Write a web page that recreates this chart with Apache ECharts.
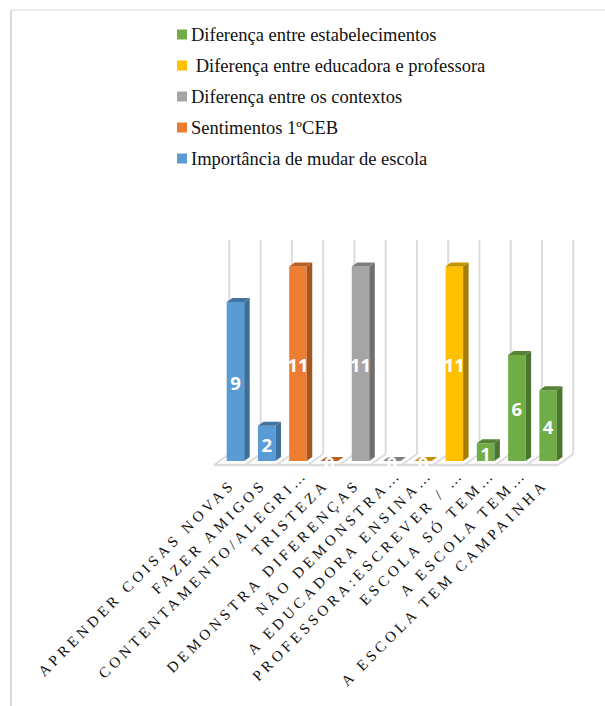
<!DOCTYPE html>
<html>
<head>
<meta charset="utf-8">
<style>
html, body { margin: 0; padding: 0; background: #fff; }
#chart { width: 605px; height: 706px; }
/* tracked capitals on the rotated category labels */
svg text[style*="15px"] { letter-spacing: 3.9px; }
</style>
<script src="https://cdn.jsdelivr.net/npm/echarts@6/dist/echarts.min.js"></script>
</head>
<body>
<div id="chart"></div>
<script>
const categories = [
  'APRENDER COISAS NOVAS',
  'FAZER AMIGOS',
  'CONTENTAMENTO/ALEGRI…',
  'TRISTEZA',
  'DEMONSTRA DIFERENÇAS',
  'NÃO DEMONSTRA…',
  'A EDUCADORA ENSINA…',
  'PROFESSORA:ESCREVER / …',
  'ESCOLA SÓ TEM…',
  'A ESCOLA TEM…',
  'A ESCOLA TEM CAMPAINHA'
];

const importancia = [9, 2, null, null, null, null, null, null, null, null, null];
const sentimentos = [null, null, 11, 0, null, null, null, null, null, null, null];
const contextos = [null, null, null, null, 11, 0, null, null, null, null, null];
const educadoraProfessora = [null, null, null, null, null, null, 0, 11, null, null, null];
const estabelecimentos = [null, null, null, null, null, null, null, null, 1, 6, 4];

const legendOrder = [
  'Diferença entre estabelecimentos',
  ' Diferença entre educadora e professora',
  'Diferença entre os contextos',
  'Sentimentos 1ºCEB',
  'Importância de mudar de escola'
];

const axisMax = 12.5;

// Projection of the fake 3D box
const barRatio = 0.56;
const barDepthX = 5.5;
const barDepthY = 4;
const floorFront = { x: -5.8, y: 4 };
const floorBack = { x: 9.5, y: -7 };
const wallColor = '#dcdcdc';

function renderBar(front, side, top) {
  return function (params, api) {
    const value = api.value(1);
    const base = api.coord([api.value(0), 0]);
    const head = api.coord([api.value(0), value]);
    const width = api.size([1, 0])[0] * barRatio;
    const x0 = base[0] - width / 2;
    const x1 = base[0] + width / 2;
    const yb = base[1];
    const yt = head[1];
    const children = [];
    if (value > 0) {
      children.push({
        type: 'polygon',
        shape: { points: [[x0, yb], [x1, yb], [x1, yt], [x0, yt]] },
        style: { fill: front }
      });
      children.push({
        type: 'polygon',
        shape: { points: [[x1, yb], [x1 + barDepthX, yb - barDepthY], [x1 + barDepthX, yt - barDepthY], [x1, yt]] },
        style: { fill: side }
      });
    }
    children.push({
      type: 'polygon',
      shape: { points: [[x0, yt], [x1, yt], [x1 + barDepthX, yt - barDepthY], [x0 + barDepthX, yt - barDepthY]] },
      style: { fill: top }
    });
    children.push({
      type: 'text',
      style: {
        x: base[0],
        y: (yb + yt) / 2 + 1,
        text: String(value),
        fill: '#ffffff',
        font: 'bold 18.5px "Open Sans"',
        align: 'center',
        verticalAlign: 'middle'
      }
    });
    return { type: 'group', children };
  };
}

// Back wall ticks and the floor, one segment per category
function renderRoom(params, api) {
  const i = api.value(0);
  const base = api.coord([i, 0]);
  const band = api.size([1, 0])[0];
  const wallTop = api.coord([i, axisMax])[1];
  const line = { stroke: wallColor, lineWidth: 2 };
  const left = base[0] - band / 2;
  const children = [];
  const addBoundary = function (x) {
    children.push({
      type: 'line',
      shape: { x1: x + floorBack.x, y1: wallTop, x2: x + floorBack.x, y2: base[1] + floorBack.y },
      style: line
    });
    children.push({
      type: 'line',
      shape: { x1: x + floorBack.x, y1: base[1] + floorBack.y, x2: x + floorFront.x, y2: base[1] + floorFront.y },
      style: line
    });
  };
  addBoundary(left);
  if (i === categories.length - 1) addBoundary(left + band);
  children.push({
    type: 'line',
    shape: { x1: left + floorFront.x, y1: base[1] + floorFront.y, x2: left + band + floorFront.x, y2: base[1] + floorFront.y },
    style: { stroke: wallColor, lineWidth: 2.5 }
  });
  return { type: 'group', children };
}

function toPoints(values) {
  return values.map((v, i) => [i, v]).filter(p => p[1] !== null);
}

function barSeries(name, values, front, side, top) {
  return {
    name,
    type: 'custom',
    coordinateSystem: 'cartesian2d',
    itemStyle: { color: front },
    encode: { x: 0, y: 1 },
    data: toPoints(values),
    renderItem: renderBar(front, side, top),
    z: 3
  };
}

// Shortened labels hang their dots past the tick, closer to the floor
const axisCategories = categories.map(function (c) {
  return c.endsWith('…') ? { value: c, textStyle: { padding: [0, -10, 0, 0] } } : c;
});

const chart = echarts.init(document.getElementById('chart'), null, { renderer: 'svg' });
chart.setOption({
  animation: false,
  backgroundColor: '#ffffff',
  grid: { left: 219.8, width: 344, top: 240, height: 221 },
  legend: {
    data: legendOrder,
    orient: 'vertical',
    left: 177,
    top: 24,
    padding: 0,
    itemWidth: 10,
    itemHeight: 10,
    itemGap: 10,
    icon: 'rect',
    textStyle: {
      fontFamily: '"Liberation Serif"',
      fontSize: 18.5,
      color: '#111111',
      padding: [0, 0, 0, -1],
      height: 21,
      lineHeight: 21
    }
  },
  xAxis: {
    type: 'category',
    data: axisCategories,
    axisLine: { show: false },
    axisTick: { show: false },
    axisLabel: {
      interval: 0,
      rotate: 45,
      margin: 18,
      padding: [0, 4, 0, 0],
      fontFamily: '"Liberation Serif"',
      fontSize: 15,
      color: '#111111'
    }
  },
  yAxis: { type: 'value', min: 0, max: axisMax, show: false },
  graphic: [
    { type: 'line', shape: { x1: 11, y1: 10, x2: 605, y2: 10 }, style: { stroke: '#d9d9d9', lineWidth: 1 } },
    { type: 'line', shape: { x1: 11, y1: 10, x2: 11, y2: 706 }, style: { stroke: '#d9d9d9', lineWidth: 2 } }
  ],
  series: [
    {
      type: 'custom',
      coordinateSystem: 'cartesian2d',
      silent: true,
      encode: { x: 0 },
      data: categories.map((c, i) => [i]),
      renderItem: renderRoom,
      z: 1
    },
    barSeries(legendOrder[4], importancia, '#5b9bd5', '#3d6f9e', '#44739f'),
    barSeries(legendOrder[3], sentimentos, '#ed7d31', '#a35620', '#b85f24'),
    barSeries(legendOrder[2], contextos, '#a5a5a5', '#6f6f6f', '#7f7f7f'),
    barSeries(legendOrder[1], educadoraProfessora, '#ffc000', '#a67d00', '#c49300'),
    barSeries(legendOrder[0], estabelecimentos, '#70ad47', '#4b7530', '#558337')
  ]
});
</script>
</body>
</html>
